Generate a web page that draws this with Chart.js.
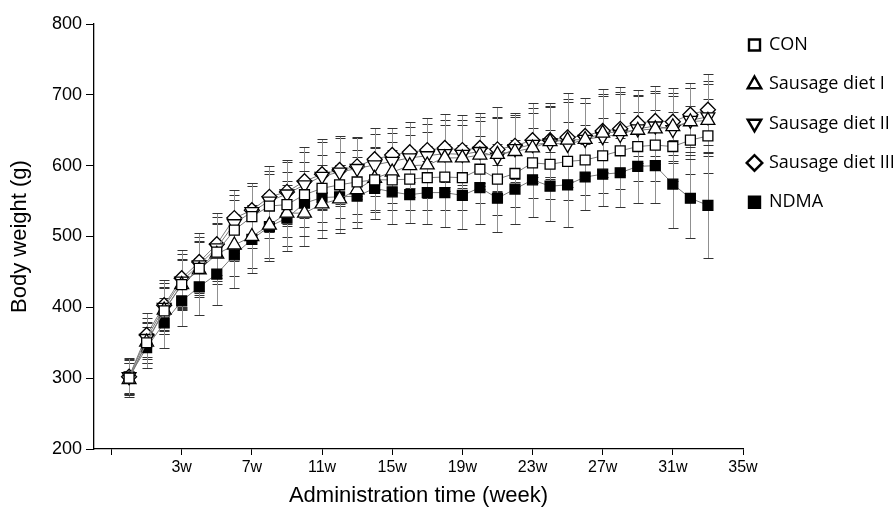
<!DOCTYPE html>
<html>
<head>
<meta charset="utf-8">
<script src="https://cdn.jsdelivr.net/npm/chart.js@4.4.1/dist/chart.umd.min.js"></script>
<style>
  html, body { margin: 0; padding: 0; background: #fff; }
  #wrap { width: 896px; height: 515px; }
</style>
</head>
<body>
<div id="wrap"><canvas id="myChart" width="896" height="515"></canvas></div>
<script>
// weeks 0..33
const WEEKS = [0,1,2,3,4,5,6,7,8,9,10,11,12,13,14,15,16,17,18,19,20,21,22,23,24,25,26,27,28,29,30,31,32,33];

const X_TICKS = [-1, 3, 7, 11, 15, 19, 23, 27, 31, 35];
const X_TICK_LABELS = ['', '3w', '7w', '11w', '15w', '19w', '23w', '27w', '31w', '35w'];

const SERIES_NAMES = ['CON', 'Sausage diet I', 'Sausage diet II', 'Sausage diet III', 'NDMA'];

// mean body weight (g)
const CON = [300,350,395,432,455,478,509,528,543,545,559,568,573,577,580,580,581,583,584,583,595,581,589,604,602,606,608,614,621,627,629,627,636,642];
const DIET1 = [298,351,396,432,453,475,488,500,516,533,533,546,553,566,582,591,600,601,611,611,615,616,620,625,634,636,637,646,648,650,652,655,662,664];
const DIET2 = [302,356,400,437,460,484,518,535,550,560,573,585,591,596,601,606,611,614,617,616,620,612,624,630,632,630,637,641,644,652,656,651,664,669];
const DIET3 = [302,361,403,441,464,489,526,537,556,563,578,588,594,599,609,615,619,622,625,622,625,623,628,636,636,640,642,649,652,660,663,662,672,679];
const NDMA = [302,343,378,409,429,447,474,496,514,526,547,555,556,557,568,563,559,562,562,558,569,554,567,580,571,573,584,588,590,599,600,574,554,544];

// standard deviations (error bars)
const CON_SD = [22,28,32,35,38,41,43,44,45,46,46,47,47,45,45,42,43,45,46,46,47,50,47,49,49,55,50,53,54,49,50,49,48,52];
const DIET1_SD = [24,29,33,36,39,42,44,45,46,46,47,48,48,46,45,43,44,46,47,47,48,52,48,50,50,58,51,55,56,49,50,48,47,51];
const DIET2_SD = [23,29,34,38,40,43,41,40,43,45,47,48,48,43,44,40,43,45,47,48,48,55,47,51,51,60,52,57,57,48,49,47,45,50];
const DIET3_SD = [25,31,35,40,41,44,40,38,43,45,48,49,48,42,44,38,42,45,48,49,49,60,47,52,52,63,53,59,59,47,49,47,45,50];
const NDMA_SD = [26,29,35,36,40,44,47,48,48,47,46,46,45,45,44,45,40,45,49,48,52,47,49,53,49,59,47,45,49,52,53,62,56,74];

function pts(values) {
  return WEEKS.map((w, i) => ({x: w, y: values[i]}));
}

const errorBars = {
  id: 'errorBars',
  beforeDatasetsDraw(chart) {
    const {ctx, scales: {x, y}} = chart;
    ctx.save();
    chart.data.datasets.forEach((ds) => {
      ds.data.forEach((p, j) => {
        const sd = ds.sd[j];
        const px = Math.round(x.getPixelForValue(p.x)) + 0.5;
        const top = Math.round(y.getPixelForValue(p.y + sd)) + 0.5;
        const bot = Math.round(y.getPixelForValue(p.y - sd)) + 0.5;
        ctx.lineWidth = 1;
        ctx.strokeStyle = '#909090';
        ctx.beginPath();
        ctx.moveTo(px, top);
        ctx.lineTo(px, bot);
        ctx.stroke();
        ctx.strokeStyle = '#333';
        ctx.beginPath();
        ctx.moveTo(px - 5, top); ctx.lineTo(px + 5, top);
        ctx.moveTo(px - 5, bot); ctx.lineTo(px + 5, bot);
        ctx.stroke();
      });
    });
    ctx.restore();
  }
};

function series(i, values, sd, style, fill, radius, rotation) {
  return {
    label: SERIES_NAMES[i],
    data: pts(values),
    sd: sd,
    borderColor: '#7a7a7a',
    borderWidth: 1,
    pointStyle: style,
    pointRotation: rotation || 0,
    pointRadius: radius,
    pointHoverRadius: radius,
    pointBackgroundColor: fill,
    pointBorderColor: '#000',
    pointBorderWidth: 1.3,
    tension: 0
  };
}

Chart.defaults.font.family = '"Liberation Sans", Arial, sans-serif';
Chart.defaults.color = '#000';

const config = {
  type: 'line',
  data: {
    datasets: [
      series(0, CON, CON_SD, 'rect', '#fff', 7),
      series(1, DIET1, DIET1_SD, 'triangle', '#fff', 8),
      series(2, DIET2, DIET2_SD, 'triangle', '#fff', 8, 180),
      series(3, DIET3, DIET3_SD, 'rectRot', '#fff', 7.5),
      series(4, NDMA, NDMA_SD, 'rect', '#000', 7)
    ]
  },
  options: {
    responsive: false,
    animation: false,
    devicePixelRatio: 1,
    layout: { padding: { top: 24, left: 0, right: 0, bottom: 0 } },
    plugins: {
      tooltip: { enabled: false },
      legend: {
        position: 'right',
        align: 'start',
        maxWidth: 153,
        title: { display: true, text: '', padding: 0, font: { size: 5 } },
        labels: {
          usePointStyle: true,
          boxWidth: 11,
          boxHeight: 11,
          padding: 6,
          color: '#000',
          font: { family: '"Open Sans", sans-serif', size: 18, lineHeight: '33.3px' },
          generateLabels(chart) {
            return Chart.defaults.plugins.legend.labels.generateLabels(chart).map(l => {
              l.text = [l.text];
              l.lineWidth = 2.4;
              return l;
            });
          }
        }
      }
    },
    scales: {
      x: {
        type: 'linear',
        min: -2,
        max: 35,
        afterBuildTicks(s) { s.ticks = X_TICKS.map(v => ({value: v})); },
        ticks: {
          autoSkip: false,
          maxRotation: 0,
          padding: 3,
          color: '#000',
          font: { size: 16 },
          callback: (v) => X_TICK_LABELS[X_TICKS.indexOf(v)]
        },
        grid: { drawOnChartArea: false, tickLength: 6, color: '#000' },
        border: { color: '#000', width: 1.3 },
        title: { display: true, text: 'Administration time (week)', color: '#000', font: { size: 22 }, padding: { top: 0, bottom: 6 } },
        afterFit(s) { s.height = 66; }
      },
      y: {
        min: 200,
        max: 800,
        ticks: { stepSize: 100, padding: 4, color: '#000', font: { size: 18 } },
        grid: { drawOnChartArea: false, tickLength: 8, color: '#000' },
        border: { color: '#000', width: 1.3 },
        title: { display: true, text: 'Body weight (g)', color: '#000', font: { size: 22 }, padding: { top: 7, bottom: 0 } },
        afterFit(s) { s.width = 94; }
      }
    }
  },
  plugins: [errorBars]
};

const myChart = new Chart(document.getElementById('myChart'), config);
</script>
</body>
</html>
